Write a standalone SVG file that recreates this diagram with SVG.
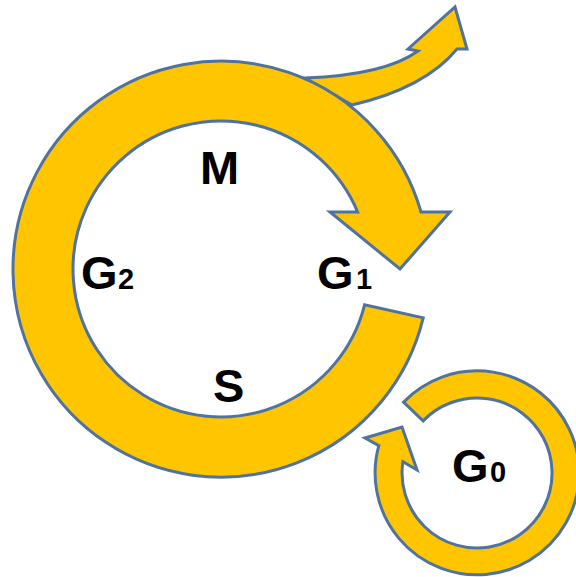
<svg xmlns="http://www.w3.org/2000/svg" width="576" height="577" viewBox="0 0 576 577">
<style>
.arrow{fill:#FFC600;stroke:#4F72A0;stroke-width:3;stroke-linejoin:miter}
.lbl{font-family:"Liberation Sans",Arial,sans-serif;font-weight:bold;font-size:47px;fill:#000}
.sub{font-size:29px}
</style>
<rect width="576" height="577" fill="#fff"/>
<g id="connectors">
<g id="exit-arrow">
<path class="arrow" d="M305,78 Q385,75 418,51 L408,49 L455,7 L467,49 L457,49 Q425,88 352,105 Z"/>
</g>
<g id="cell-cycle-arrow">
<path class="arrow" d="M423.2,317.9 A208,208 0 1 1 421,212 L450,212 L400,269 L330,212 L357.6,212 A148,148 0 1 0 364.6,304.8 Z"/>
</g>
<g id="g0-arrow">
<path class="arrow" d="M403.6,402.1 A102,102 0 1 1 378.8,445.6 L365,438 L402,427 L417,470 L402.9,461.7 A75,75 0 1 0 423.1,420.9 Z"/>
</g>
</g>
<g id="M"><text class="lbl" x="200" y="184">M</text></g>
<g id="G2"><text class="lbl" x="81" y="289">G<tspan class="sub" x="118">2</tspan></text></g>
<g id="G1"><text class="lbl" x="317" y="289">G<tspan class="sub" x="356">1</tspan></text></g>
<g id="S"><text class="lbl" x="213" y="402">S</text></g>
<g id="G0"><text class="lbl" x="452" y="482">G<tspan class="sub" x="490">0</tspan></text></g>
</svg>
